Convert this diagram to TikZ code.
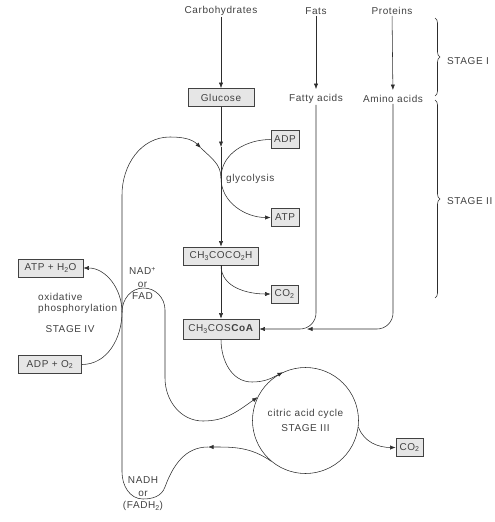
\documentclass[tikz,border=0pt]{standalone}
\usepackage{fontspec}
\setmainfont{Liberation Sans}[LetterSpace=6]
\usepackage{tikz}
\usetikzlibrary{arrows.meta,decorations.pathreplacing}
\definecolor{Cl}{RGB}{45,45,45}
\definecolor{Ct}{RGB}{65,65,65}
\definecolor{Cb}{RGB}{230,230,230}
\tikzset{
  lbl/.style={font=\fontsize{10}{12.5}\selectfont,text=Ct,inner sep=1pt},
  cbox/.style={lbl,draw=Cl!90,fill=Cb,line width=0.7pt,minimum height=18pt,inner sep=2pt},
  flow/.style={Cl,line width=0.55pt},
  arr/.style={flow,-{Latex[length=5.5pt,width=4.2pt]}},
  brc/.style={flow,line width=0.6pt,decorate,decoration={brace,amplitude=5pt}},
}

\begin{document}
\begin{tikzpicture}[x=1pt,y=1pt]
    \useasboundingbox (0,0) rectangle (495,-522);
    % stage I
    \node[lbl] (carb) at (221,-11) {Carbohydrates};
    \node[lbl] (fats) at (316,-11) {Fats};
    \node[lbl] (prot) at (392,-11) {Proteins};
    \node[cbox,minimum width=66pt] (gluc) at (221,-97.5) {Glucose};
    \node[lbl] (fatty) at (316,-99) {Fatty acids};
    \node[lbl] (amino) at (393,-99) {Amino acids};
    \draw[arr] (carb) -- (gluc);
    \draw[arr,shorten >=4pt] (fats) -- (fatty);
    \draw[arr,shorten >=4pt] (prot) -- (amino);
    % stage II
    \node[cbox,minimum width=28pt] (adp) at (285,-139.5) {ADP};
    \node[cbox,minimum width=28pt] (atp) at (285,-217.5) {ATP};
    \node[cbox,minimum width=75pt] (pyr) at (221,-256) {CH\textsubscript{3}COCO\textsubscript{2}H};
    \node[cbox,minimum width=27pt] (co2a) at (284.5,-294) {CO\textsubscript{2}};
    \node[cbox,minimum width=76pt,minimum height=20pt] (coa) at (221,-329) {CH\textsubscript{3}COS\textbf{CoA}};
    \node[lbl,anchor=west] (glyc) at (225,-179) {glycolysis};
    \coordinate (j1) at (221,-147);
    \coordinate (kg) at (221,-178);
    \coordinate (mrg) at (307,-329);
    \draw[arr] (gluc) -- (j1);
    \draw[arr] (j1) -- (pyr);
    \draw[arr] (pyr) -- (coa);
    \draw[arr] (adp.west) to[out=180,in=90] (kg) to[out=-90,in=180] (atp.west);
    \draw[arr] (pyr.south) to[out=-90,in=180] (co2a.west);
    \draw[arr,rounded corners=16pt] (fatty) |- (coa);
    \draw[arr,rounded corners=16pt] (amino) |- (mrg);
    % stage III
    \node[lbl,draw=Cl,line width=0.55pt,circle,minimum size=106pt,align=center]
      (cyc) at (305.5,-420.5) {citric acid cycle\\[3pt]STAGE III};
    \node[cbox,minimum width=27pt] (co2b) at (409.5,-447.5) {CO\textsubscript{2}};
    \draw[arr] (coa.south) to[out=-90,in=180] (252,-382) to[out=0,in=208] (cyc.115);
    \draw[arr] (cyc.-7) to[out=-70,in=180] (co2b.west);
    % stage IV
    \node[cbox,minimum width=65pt] (atph) at (50.5,-268) {ATP + H\textsubscript{2}O};
    \node[cbox,minimum width=63pt] (adpo) at (50,-364.5) {ADP + O\textsubscript{2}};
    \node[lbl,align=left,anchor=west,font=\fontsize{10}{11.5}\selectfont] (oxph) at (37,-303.5) {oxidative\\phosphorylation};
    \node[lbl] (st4) at (70,-329) {STAGE IV};
    \node[lbl,align=center] (nad) at (142.5,-283.5) {NAD\textsuperscript{+}\\or\\FAD};
    \node[lbl,align=center] (nadh) at (143,-494) {NADH\\or\\(FADH\textsubscript{2})};
    \coordinate (ko) at (122,-312);
    \coordinate (j2) at (201,-148);
    \coordinate (k1) at (208,-447);
    \draw[arr] (adpo.east) to[out=0,in=-90] (ko) to[out=90,in=0] (atph.east);
    \draw[arr] (ko) to[out=90,in=180] (143.5,-288) to[out=0,in=90] (165,-310)
      -- (165,-378) to[out=-90,in=180] (203,-421) to[out=0,in=215] (cyc.154);
    \draw[arr] (cyc.230) to[out=145,in=0] (k1);
    \draw[arr] (k1) to[out=180,in=70] (165,-487) to[out=-110,in=0] (143,-499)
      to[out=180,in=-90] (122,-472) -- (122,-195) to[out=90,in=180] (170,-137)
      to[out=0,in=135] (j2);
    \draw[flow] (j2) to[out=-45,in=90] (kg);
    % stages
    \draw[brc] (435,-18) -- (435,-96);
    \draw[brc] (435,-100) -- (435,-298);
    \node[lbl,anchor=west] (st1) at (446,-61) {STAGE I};
    \node[lbl,anchor=west] (st2) at (446,-201) {STAGE II};
\end{tikzpicture}
\end{document}
